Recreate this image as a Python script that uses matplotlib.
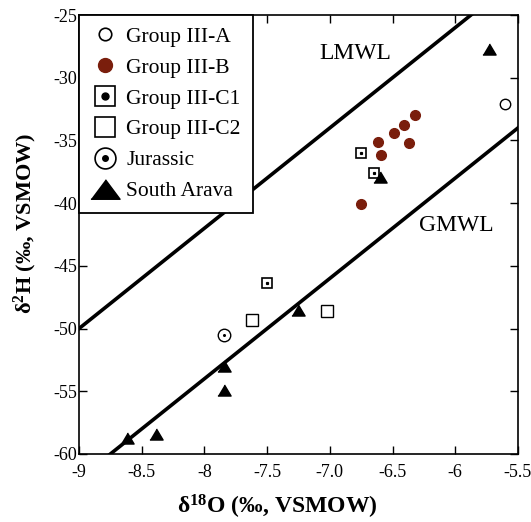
import matplotlib
matplotlib.use('Agg')
import matplotlib.pyplot as plt
from matplotlib.lines import Line2D
import numpy as np

plt.rcParams['font.family'] = ['Liberation Serif', 'DejaVu Serif']
plt.rcParams['mathtext.fontset'] = 'custom'
plt.rcParams['mathtext.rm'] = 'Liberation Serif'
plt.rcParams['mathtext.bf'] = 'Liberation Serif:bold'
plt.rcParams['mathtext.it'] = 'Liberation Serif:italic'
plt.rcParams['axes.unicode_minus'] = False

# isotope data (d18O, d2H)
grp_a_o = [-5.60]
grp_a_h = [-32.1]

grp_b_o = [-6.32, -6.41, -6.49, -6.62, -6.37, -6.59, -6.75]
grp_b_h = [-33.0, -33.8, -34.4, -35.1, -35.2, -36.2, -40.1]

grp_c1_o = [-6.75, -6.65, -7.50]
grp_c1_h = [-36.0, -37.6, -46.4]

grp_c2_o = [-7.62, -7.02]
grp_c2_h = [-49.3, -48.6]

jurassic_o = [-7.84]
jurassic_h = [-50.5]

arava_o = [-5.73, -6.60, -7.25, -7.84, -7.84, -8.39, -8.62]
arava_h = [-27.7, -37.9, -48.5, -53.0, -54.9, -58.4, -58.7]

xticks = [-9, -8.5, -8, -7.5, -7, -6.5, -6, -5.5]
xtick_labels = ['-9', '-8.5', '-8', '-7.5', '-7.0', '-6.5', '-6', '-5.5']
yticks = [-25, -30, -35, -40, -45, -50, -55, -60]

# meteoric water lines: d2H = 8 * d18O + d-excess
lmwl_d = 22
gmwl_d = 10

brown = '#7a1e0c'
tri = [(-1, -0.84), (1, -0.84), (0, 0.84)]
tri_big = [(-1, -0.67), (1, -0.67), (0, 0.67)]

fig = plt.figure(figsize=(5.31, 5.22), dpi=100)
ax = fig.add_axes([79 / 531, 68 / 522, 439 / 531, 439 / 522])

xs = np.array([-9.5, -5.0])
ax.plot(xs, 8 * xs + lmwl_d, color='black', lw=2.6, solid_capstyle='butt')
ax.plot(xs, 8 * xs + gmwl_d, color='black', lw=2.6, solid_capstyle='butt')

ax.plot(grp_a_o, grp_a_h, 'o', ms=7.5, mfc='white', mec='black', mew=1.0)
ax.plot(grp_b_o, grp_b_h, 'o', ms=7, mfc=brown, mec=brown)
ax.plot(grp_c1_o, grp_c1_h, 's', ms=6.5, mfc='white', mec='black', mew=1.2)
ax.plot(grp_c1_o, grp_c1_h, 's', ms=1.3, mfc='black', mec='black')
ax.plot(grp_c2_o, grp_c2_h, 's', ms=8, mfc='white', mec='black', mew=1.0)
ax.plot(jurassic_o, jurassic_h, 'o', ms=9, mfc='white', mec='black', mew=1.0)
ax.plot(jurassic_o, jurassic_h, 'o', ms=1.2, mfc='black', mec='black')
ax.plot(arava_o, arava_h, marker=tri, ls='none', ms=9.5, color='black')

ax.text(-6.80, -28.1, 'LMWL', fontsize=17, ha='center', va='center')
ax.text(-5.99, -41.8, 'GMWL', fontsize=17, ha='center', va='center')

ax.set_xlim(-9, -5.5)
ax.set_ylim(-60, -25)
ax.set_xticks(xticks)
ax.set_xticklabels(xtick_labels)
ax.set_yticks(yticks)
ax.tick_params(direction='in', length=6, width=1.0, top=True, right=True,
               labelsize=13)
ax.tick_params(axis='x', pad=7)
ax.tick_params(axis='y', pad=1)
for s in ax.spines.values():
    s.set_linewidth(1.2)

ax.set_xlabel(r'$\mathbf{\delta^{18}O}$ (‰, VSMOW)', fontsize=17, fontweight='bold')
ax.set_ylabel(r'$\mathbf{\delta^{2}H}$ (‰, VSMOW)', fontsize=16, fontweight='bold')
ax.xaxis.set_label_coords(0.452, -0.088)
ax.yaxis.set_label_coords(-0.09, 0.526)

handles = [
    Line2D([], [], ls='none', marker='o', ms=9, mfc='white', mec='black', mew=1.2),
    Line2D([], [], ls='none', marker='o', ms=10, mfc=brown, mec=brown),
    (Line2D([], [], ls='none', marker='s', ms=15, mfc='white', mec='black', mew=1.2),
     Line2D([], [], ls='none', marker='o', ms=5, mfc='black', mec='black')),
    Line2D([], [], ls='none', marker='s', ms=15, mfc='white', mec='black', mew=1.2),
    (Line2D([], [], ls='none', marker='o', ms=15, mfc='white', mec='black', mew=1.2),
     Line2D([], [], ls='none', marker='o', ms=4, mfc='black', mec='black')),
    Line2D([], [], ls='none', marker=tri_big, ms=21, color='black'),
]
labels = ['Group III-A', 'Group III-B', 'Group III-C1', 'Group III-C2',
          'Jurassic', 'South Arava']
leg = ax.legend(handles, labels, loc='upper left', borderaxespad=0,
                fontsize=15.5, frameon=True, fancybox=False, edgecolor='black',
                framealpha=1, handlelength=1.3, handletextpad=0.35,
                labelspacing=0.5, borderpad=0.55)
leg.get_frame().set_linewidth(1.3)

fig.savefig('out.png', dpi=100)
